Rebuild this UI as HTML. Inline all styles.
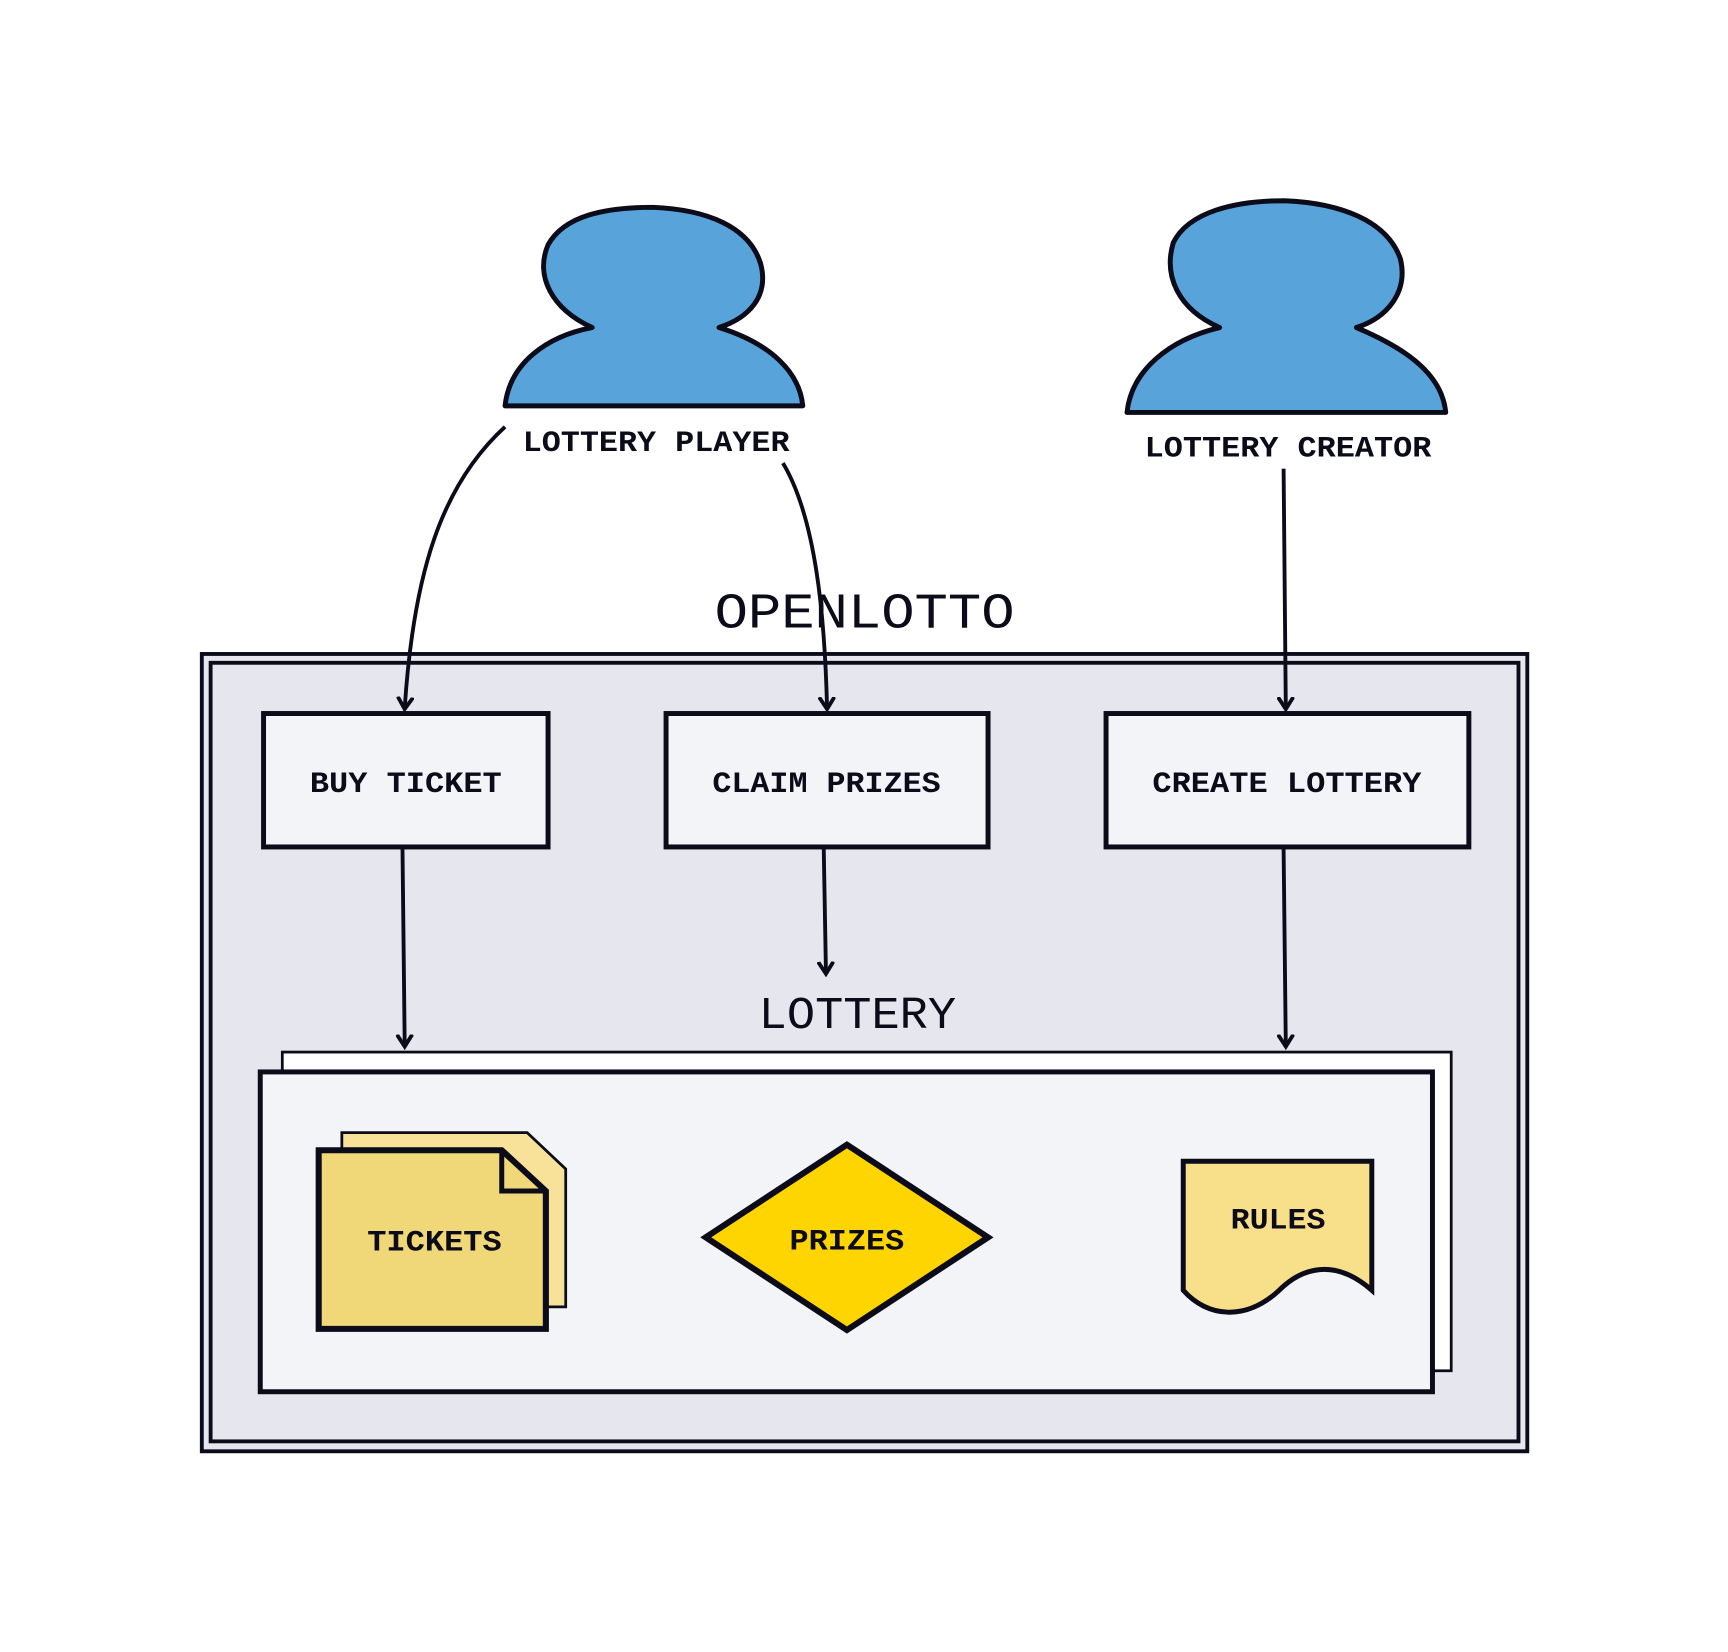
<!DOCTYPE html>
<html><head><meta charset="utf-8"><style>html,body{margin:0;padding:0;background:#fff}svg{display:block}</style></head>
<body>
<svg width="1728" height="1652" viewBox="0 0 1567 1498" preserveAspectRatio="none" xmlns="http://www.w3.org/2000/svg">
<defs>
<marker id="ah" markerWidth="14" markerHeight="16" refX="10" refY="8" orient="auto" markerUnits="userSpaceOnUse">
<path d="M0,1 L11,8 L0,15" fill="none" stroke="#0b0b1a" stroke-width="3.5"/>
</marker>
</defs>
<rect width="1567" height="1498" fill="#fff"/>
<g stroke="#0b0b1a" stroke-width="4.5" fill="#58a4da" stroke-linejoin="round">
<path d="M458,368 C462,330 495,305 537,297 C500,280 485,250 497,222 C512,195 550,188 592,188 C640,190 680,205 690,240 C697,268 680,288 652,297 C700,312 725,338 728,368 Z"/>
<path d="M1022,374 C1026,336 1060,308 1106,297 C1068,280 1055,250 1064,220 C1078,192 1120,182 1165,182 C1215,184 1258,200 1270,235 C1277,265 1258,288 1230,297 C1280,318 1308,342 1311,374 Z"/>
</g>
<g font-family="'Liberation Mono',monospace" font-weight="bold" fill="#0b0b1a" font-size="27" lengthAdjust="spacingAndGlyphs">
<text x="474" y="409" textLength="242" lengthAdjust="spacingAndGlyphs">LOTTERY PLAYER</text>
<text x="1038" y="414" textLength="260" lengthAdjust="spacingAndGlyphs">LOTTERY CREATOR</text>
<text x="281" y="718" textLength="174" lengthAdjust="spacingAndGlyphs">BUY TICKET</text>
<text x="646" y="718" textLength="207" lengthAdjust="spacingAndGlyphs">CLAIM PRIZES</text>
<text x="1045" y="718" textLength="244" lengthAdjust="spacingAndGlyphs">CREATE LOTTERY</text>
<text x="333" y="1134" textLength="122" lengthAdjust="spacingAndGlyphs">TICKETS</text>
<text x="716" y="1133" textLength="104" lengthAdjust="spacingAndGlyphs">PRIZES</text>
<text x="1116" y="1114" textLength="86" lengthAdjust="spacingAndGlyphs">RULES</text>
</g>
<text x="648" y="569" textLength="272" lengthAdjust="spacingAndGlyphs" font-family="'Liberation Mono',monospace" font-size="45" fill="#0b0b1a">OPENLOTTO</text>
<rect x="183" y="593" width="1202" height="723" fill="#e6e7ee" stroke="#0b0b1a" stroke-width="3.5"/>
<rect x="191" y="601" width="1186" height="706" fill="none" stroke="#0b0b1a" stroke-width="3.5"/>
<g fill="#f3f4f8" stroke="#0b0b1a" stroke-width="4.5">
<rect x="239" y="647" width="258" height="121"/>
<rect x="604" y="647" width="292" height="121"/>
<rect x="1003" y="647" width="329" height="121"/>
</g>
<g font-family="'Liberation Mono',monospace" font-weight="bold" fill="#0b0b1a" font-size="27">
<text x="281" y="718" textLength="174" lengthAdjust="spacingAndGlyphs">BUY TICKET</text>
<text x="646" y="718" textLength="207" lengthAdjust="spacingAndGlyphs">CLAIM PRIZES</text>
<text x="1045" y="718" textLength="244" lengthAdjust="spacingAndGlyphs">CREATE LOTTERY</text>
</g>
<text x="688" y="932" textLength="179" lengthAdjust="spacingAndGlyphs" font-family="'Liberation Mono',monospace" font-size="41" fill="#0b0b1a">LOTTERY</text>
<rect x="256" y="954" width="1060" height="289" fill="#fff" stroke="#0b0b1a" stroke-width="2.5"/>
<rect x="236" y="972" width="1063" height="290" fill="#f3f4f8" stroke="#0b0b1a" stroke-width="4.5"/>
<g stroke="#0b0b1a" stroke-width="3.5" fill="none" marker-end="url(#ah)">
<path d="M458,387 C400,440 375,520 367,642"/>
<path d="M710,420 C740,470 748,560 750,642"/>
<path d="M1164,425 L1166,642"/>
<path d="M365,770 L367,948"/>
<path d="M747,770 L749,882"/>
<path d="M1164,770 L1166,948"/>
</g>
<path d="M310,1027 L478,1027 L513,1060 L513,1185 L310,1185 Z" fill="#f8e29a" stroke="#0b0b1a" stroke-width="2.5"/>
<path d="M289,1043 L455,1043 L495,1080 L495,1205 L289,1205 Z" fill="#f0d878" stroke="#0b0b1a" stroke-width="5.5"/>
<path d="M455,1043 L455,1080 L495,1080" fill="none" stroke="#0b0b1a" stroke-width="4.5"/>
<path d="M640,1122 L768,1038 L896,1122 L768,1206 Z" fill="#ffd500" stroke="#0b0b1a" stroke-width="5.5"/>
<path d="M1073,1053 L1244,1053 L1244,1170 C1210,1140 1180,1150 1160,1170 C1130,1198 1095,1195 1073,1170 Z" fill="#f8e08a" stroke="#0b0b1a" stroke-width="4.5"/>
<g font-family="'Liberation Mono',monospace" font-weight="bold" fill="#0b0b1a" font-size="27">
<text x="333" y="1134" textLength="122" lengthAdjust="spacingAndGlyphs">TICKETS</text>
<text x="716" y="1133" textLength="104" lengthAdjust="spacingAndGlyphs">PRIZES</text>
<text x="1116" y="1114" textLength="86" lengthAdjust="spacingAndGlyphs">RULES</text>
</g>
</svg>
</body></html>
